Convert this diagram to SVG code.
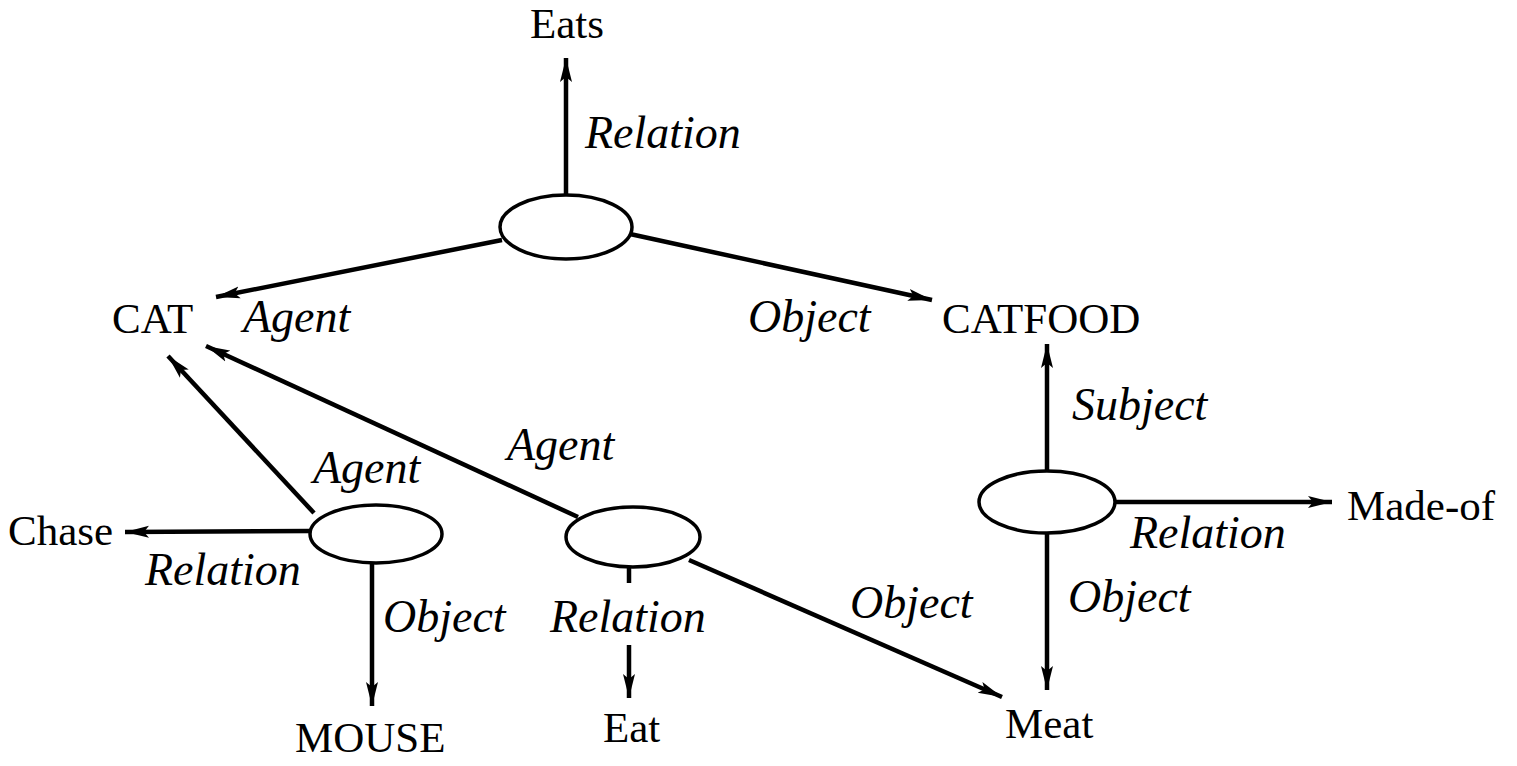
<svg xmlns="http://www.w3.org/2000/svg" width="1517" height="766" viewBox="0 0 1517 766">
<defs>
<marker id="arr" markerUnits="userSpaceOnUse" markerWidth="28" markerHeight="14" refX="24" refY="7" orient="auto">
<path d="M0,1 L24,7 L0,13 L5,7 z" fill="#000"/>
</marker>
<style>
.n{font-family:"Liberation Serif","Times New Roman",serif;font-size:43px;fill:#000}
.l{font-family:"Liberation Serif","Times New Roman",serif;font-style:italic;font-size:46px;fill:#000}
.e{fill:#fff;stroke:#000;stroke-width:3.5}
.c{stroke:#000;stroke-width:4.5;fill:none}
.a{marker-end:url(#arr)}
</style>
</defs>
<rect width="1517" height="766" fill="#fff"/>
<g id="connectors">
<line class="c a" x1="566" y1="195" x2="566" y2="58"/>
<line class="c a" x1="502" y1="240" x2="216" y2="297"/>
<line class="c a" x1="630" y1="234" x2="932" y2="300"/>
<line class="c a" x1="1047" y1="470" x2="1047" y2="344"/>
<line class="c a" x1="1114" y1="502" x2="1332" y2="502"/>
<line class="c a" x1="1047" y1="534" x2="1047" y2="690"/>
<line class="c a" x1="314" y1="513" x2="168" y2="356"/>
<line class="c a" x1="578" y1="517" x2="206" y2="346"/>
<line class="c a" x1="310" y1="531" x2="125" y2="532"/>
<line class="c a" x1="372" y1="563" x2="372" y2="706"/>
<line class="c" x1="629" y1="567" x2="629" y2="583"/>
<line class="c a" x1="629" y1="645" x2="629" y2="698"/>
<line class="c a" x1="689" y1="560" x2="1002" y2="697"/>
</g>
<g id="rel1"><ellipse class="e" cx="566" cy="227" rx="66" ry="32"/></g>
<g id="rel2"><ellipse class="e" cx="376" cy="534" rx="66" ry="29"/></g>
<g id="rel3"><ellipse class="e" cx="633" cy="537" rx="67" ry="30"/></g>
<g id="rel4"><ellipse class="e" cx="1047" cy="502" rx="68" ry="31"/></g>
<g id="n-eats"><text class="n" x="567" y="38" text-anchor="middle">Eats</text></g>
<g id="n-cat"><text class="n" x="112" y="333">CAT</text></g>
<g id="n-catfood"><text class="n" x="942" y="333">CATFOOD</text></g>
<g id="n-chase"><text class="n" x="8" y="545">Chase</text></g>
<g id="n-mouse"><text class="n" x="295" y="752">MOUSE</text></g>
<g id="n-eat"><text class="n" x="603" y="742">Eat</text></g>
<g id="n-meat"><text class="n" x="1005" y="738">Meat</text></g>
<g id="n-madeof"><text class="n" x="1347" y="520">Made-of</text></g>
<g id="labels">
<text class="l" x="585" y="148">Relation</text>
<text class="l" x="243" y="332">Agent</text>
<text class="l" x="748" y="332">Object</text>
<text class="l" x="1072" y="420">Subject</text>
<text class="l" x="507" y="460">Agent</text>
<text class="l" x="313" y="483">Agent</text>
<text class="l" x="145" y="585">Relation</text>
<text class="l" x="383" y="632">Object</text>
<text class="l" x="550" y="632">Relation</text>
<text class="l" x="850" y="618">Object</text>
<text class="l" x="1130" y="548">Relation</text>
<text class="l" x="1068" y="612">Object</text>
</g>
</svg>
